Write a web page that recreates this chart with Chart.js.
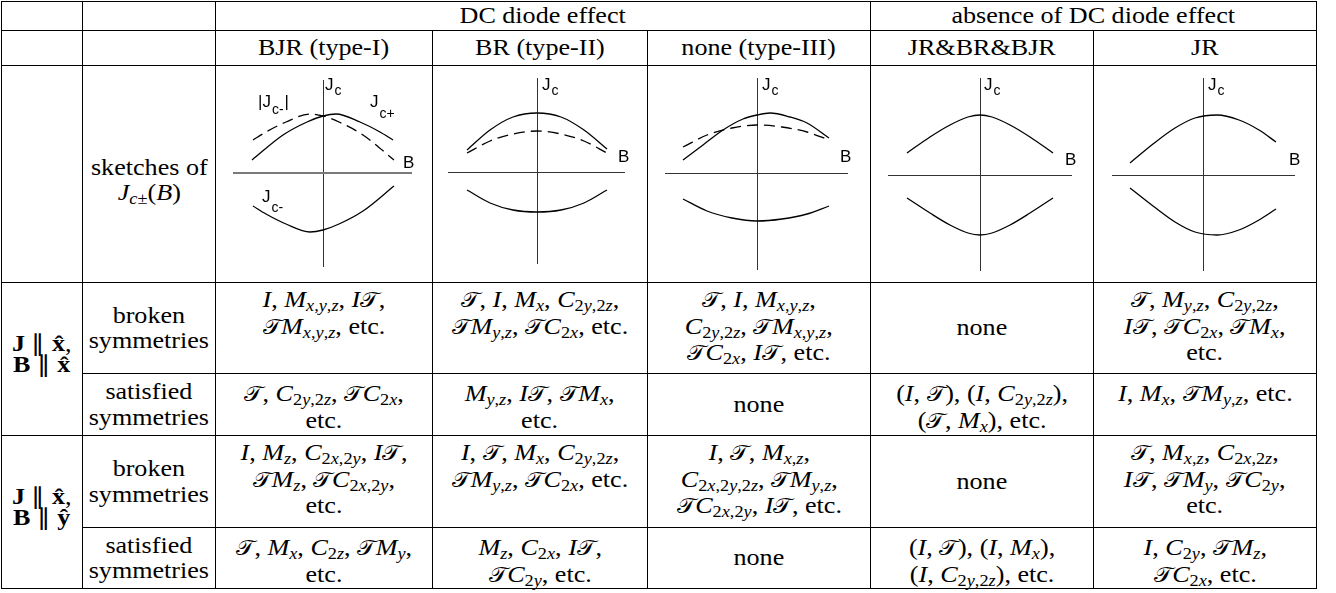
<!DOCTYPE html>
<html>
<head>
<meta charset="utf-8">
<script src="https://cdn.jsdelivr.net/npm/chart.js@4.4.0/dist/chart.umd.min.js"></script>
<style>
body { margin: 0; background: #fff; width: 1336px; height: 593px; overflow: hidden; position: relative; }
.cel { position: absolute; box-sizing: border-box; border: 1px solid #000;
       font-family: "Liberation Serif", "Times New Roman", serif;
       font-size: 22.5px; line-height: 25.5px; color: #000; text-align: center; white-space: nowrap; }
.centro { display: flex; align-items: center; justify-content: center; }
.txt { display: inline-block; transform: scaleX(1.16); }
.cel sub { font-size: 0.7em; line-height: 0; vertical-align: -0.28em; }
.cal { font-style: normal; font-size: 0.95em; }
canvas { position: absolute; }
</style>
</head>
<body>
<script>
// Column titles and cell texts
var grupos = ['DC diode effect', 'absence of DC diode effect'];
var tipos = ['BJR (type-I)', 'BR (type-II)', 'none (type-III)', 'JR&amp;BR&amp;BJR', 'JR'];
var linhas = ['broken<br>symmetries', 'satisfied<br>symmetries'];

var quebradasX = [
    '$I$, $M_{x,y,z}$, $IT$,<br>$TM_{x,y,z}$, etc.',
    '$T$, $I$, $M_x$, $C_{2y,2z}$,<br>$TM_{y,z}$, $TC_{2x}$, etc.',
    '$T$, $I$, $M_{x,y,z}$,<br>$C_{2y,2z}$, $TM_{x,y,z}$,<br>$TC_{2x}$, $IT$, etc.',
    'none',
    '$T$, $M_{y,z}$, $C_{2y,2z}$,<br>$IT$, $TC_{2x}$, $TM_x$,<br>etc.'
];
var satisfeitasX = [
    '$T$, $C_{2y,2z}$, $TC_{2x}$,<br>etc.',
    '$M_{y,z}$, $IT$, $TM_x$,<br>etc.',
    'none',
    '$(I, T)$, $(I, C_{2y,2z})$,<br>$(T, M_x)$, etc.',
    '$I$, $M_x$, $TM_{y,z}$, etc.'
];
var quebradasY = [
    '$I$, $M_z$, $C_{2x,2y}$, $IT$,<br>$TM_z$, $TC_{2x,2y}$,<br>etc.',
    '$I$, $T$, $M_x$, $C_{2y,2z}$,<br>$TM_{y,z}$, $TC_{2x}$, etc.',
    '$I$, $T$, $M_{x,z}$,<br>$C_{2x,2y,2z}$, $TM_{y,z}$,<br>$TC_{2x,2y}$, $IT$, etc.',
    'none',
    '$T$, $M_{x,z}$, $C_{2x,2z}$,<br>$IT$, $TM_y$, $TC_{2y}$,<br>etc.'
];
var satisfeitasY = [
    '$T$, $M_x$, $C_{2z}$, $TM_y$,<br>etc.',
    '$M_z$, $C_{2x}$, $IT$,<br>$TC_{2y}$, etc.',
    'none',
    '$(I, T)$, $(I, M_x)$,<br>$(I, C_{2y,2z})$, etc.',
    '$I$, $C_{2y}$, $TM_z$,<br>$TC_{2x}$, etc.'
];

// Sketch curves: B values and Jc values
var bjrB1 = [-71, -40, -16, 0, 13, 37, 57, 70];
var bjrJcPos = [13, 38, 51, 57, 59, 51, 41, 33];
var bjrB2 = [-70, -57, -37, -13, 0, 16, 40, 71];
var bjrJcNeg = [-33, -41, -51, -59, -57, -51, -38, -13];
var bjrJcNegAbs = [33, 41, 51, 59, 57, 51, 38, 13];

var brB = [-70, -47, -24, 0, 24, 47, 70];
var brJcPos = [22, 42, 55, 59, 55, 42, 23];
var brJcNeg = [-18, -31, -38, -40, -38, -31, -18];
var brJcNegAbs = [19, 31, 38, 41, 38, 31, 19];

var t3B1 = [-74, -54, -34, -14, 0, 13, 33, 50, 72];
var t3JcPos = [13, 28, 43, 54, 58, 60, 56, 50, 35];
var t3B2 = [-74, -50, -25, 0, 25, 50, 72];
var t3JcNeg = [-26, -38, -45, -48, -46, -41, -33];
var t3JcNegAbs = [26, 38, 45, 48, 46, 41, 33];

var jbbB = [-73, -50, -30, -12, 0, 12, 30, 50, 73];
var jbbJcPos = [22, 38, 50, 58, 60, 58, 50, 38, 22];
var jbbJcNeg = [-23, -38, -50, -58, -60, -58, -50, -38, -23];

var jrB = [-73, -50, -28, -8, 14, 36, 56, 73];
var jrJcPos = [12, 31, 47, 57, 60, 55, 45, 33];
var jrJcNeg = [-13, -31, -47, -57, -60, -55, -45, -34];

// grid of the table
var xs = [1, 82, 215, 432, 647, 870, 1093, 1316];
var ys = [1, 30, 65, 282, 373, 435, 527, 588];

function mat(m) {
    var out = '', i = 0;
    while (i < m.length) {
        var ch = m[i];
        if (ch == '_') {
            var sub;
            if (m[i + 1] == '{') { var j = m.indexOf('}', i); sub = m.slice(i + 2, j); i = j + 1; }
            else { sub = m[i + 1]; i += 2; }
            out += '<sub>' + mat(sub) + '</sub>';
            continue;
        }
        if (ch == 'T') out += '<span class="cal">\uD835\uDCAF</span>';
        else if (/[A-Za-z]/.test(ch)) out += '<i>' + ch + '</i>';
        else out += ch;
        i++;
    }
    return out;
}

function tex(s) {
    return s.replace(/\$([^$]*)\$/g, function (a, m) { return mat(m); });
}

function celula(c0, c1, r0, r1, html, centro, pad) {
    var d = document.createElement('div');
    d.className = 'cel' + (centro ? ' centro' : '');
    d.style.left = xs[c0] + 'px';
    d.style.top = ys[r0] + 'px';
    d.style.width = (xs[c1] - xs[c0] + 1) + 'px';
    d.style.height = (ys[r1] - ys[r0] + 1) + 'px';
    if (pad) d.style.paddingTop = pad + 'px';
    d.innerHTML = '<span class="txt">' + tex(html) + '</span>';
    document.body.appendChild(d);
    return d;
}

// header rows
celula(0, 1, 0, 1, '', true); celula(1, 2, 0, 1, '', true);
celula(2, 5, 0, 1, grupos[0], true);
celula(5, 7, 0, 1, grupos[1], true);
celula(0, 1, 1, 2, '', true); celula(1, 2, 1, 2, '', true);
for (var i = 0; i < 5; i++) celula(i + 2, i + 3, 1, 2, tipos[i], true);

// sketch row
celula(0, 1, 2, 3, '', true);
celula(1, 2, 2, 3, 'sketches of<br>$J_{c±}(B)$', true).style.paddingTop = '12px';
for (var i = 0; i < 5; i++) celula(i + 2, i + 3, 2, 3, '', true);

// symmetry rows
var lx = celula(0, 1, 3, 5, '<b>J</b> ∥ <b>x̂</b>,<br><b>B</b> ∥ <b>x̂</b>', true);
lx.style.paddingBottom = '10px'; lx.style.lineHeight = '21px';
var ly = celula(0, 1, 5, 7, '<b>J</b> ∥ <b>x̂</b>,<br><b>B</b> ∥ <b>ŷ</b>', true);
ly.style.paddingBottom = '10px'; ly.style.lineHeight = '21px';

var blocos = [quebradasX, satisfeitasX, quebradasY, satisfeitasY];
var pads = [4, 7, 4, 7];
for (var r = 0; r < 4; r++) {
    celula(1, 2, r + 3, r + 4, linhas[r % 2], true);
    for (var i = 0; i < 5; i++) {
        var t = blocos[r][i];
        if (t == 'none') celula(i + 2, i + 3, r + 3, r + 4, t, true);
        else celula(i + 2, i + 3, r + 3, r + 4, t, false, pads[r]);
    }
}

// labels of the sketches drawn on the chart
var rotulosPlugin = {
    id: 'rotulos',
    afterDraw: function (chart, args, opts) {
        var ctx = chart.ctx;
        var sx = chart.scales.x, sy = chart.scales.y;
        ctx.save();
        ctx.fillStyle = '#000';
        ctx.textBaseline = 'alphabetic';
        (opts.itens || []).forEach(function (r) {
            var px = sx.getPixelForValue(r.x), py = sy.getPixelForValue(r.y);
            ctx.font = '17px "Liberation Sans", Arial, sans-serif';
            ctx.fillText(r.t, px, py);
            var w = ctx.measureText(r.t).width;
            if (r.s) {
                ctx.font = '14px "Liberation Sans", Arial, sans-serif';
                ctx.fillText(r.s, px + w + 1, py + (r.d || 6));
                w += 1 + ctx.measureText(r.s).width;
            }
            if (r.p) {
                ctx.font = '17px "Liberation Sans", Arial, sans-serif';
                ctx.fillText(r.p, px + w + 1, py);
            }
        });
        ctx.restore();
    }
};

function pontos(b, jc) {
    return b.map(function (v, i) { return { x: v, y: jc[i] }; });
}

function serie(b, jc, tracejado) {
    return {
        data: pontos(b, jc), showLine: true, borderColor: '#000', borderWidth: 1.3,
        pointRadius: 0, cubicInterpolationMode: 'monotone', fill: false,
        borderDash: tracejado ? [11, 6] : []
    };
}

function escala(min, max, cor, larg) {
    return {
        type: 'linear', min: min, max: max,
        ticks: { display: false }, border: { display: false },
        grid: { drawTicks: false, color: cor, lineWidth: larg },
        afterBuildTicks: function (s) { s.ticks = [{ value: 0 }]; }
    };
}

var esbocos = [
    { col: 2, caixa: [233, 412, 80, 267], eixo: [323, 173], corB: '#7a7a7a', largB: 2,
      series: [serie(bjrB1, bjrJcPos, false), serie(bjrB2, bjrJcNeg, false), serie(bjrB2, bjrJcNegAbs, true)],
      rotulos: [{ t: 'J', s: 'c', x: 2, y: 83, d: 5 }, { t: '|J', s: 'c-', p: '|', x: -65, y: 66, d: 7 },
                { t: 'J', s: 'c+', x: 47, y: 66, d: 11 }, { t: 'B', x: 80, y: 5 }, { t: 'J', s: 'c-', x: -61, y: -29, d: 10 }] },
    { col: 3, caixa: [448, 625, 78, 264], eixo: [537, 172], corB: '#333', largB: 1,
      series: [serie(brB, brJcPos, false), serie(brB, brJcNeg, false), serie(brB, brJcNegAbs, true)],
      rotulos: [{ t: 'J', s: 'c', x: 5, y: 82, d: 5 }, { t: 'B', x: 81, y: 10 }] },
    { col: 4, caixa: [665, 848, 78, 270], eixo: [757, 173], corB: '#333', largB: 1,
      series: [serie(t3B1, t3JcPos, false), serie(t3B2, t3JcNeg, false), serie(t3B2, t3JcNegAbs, true)],
      rotulos: [{ t: 'J', s: 'c', x: 5, y: 83, d: 5 }, { t: 'B', x: 83, y: 11 }] },
    { col: 5, caixa: [888, 1072, 78, 271], eixo: [980, 175], corB: '#333', largB: 1,
      series: [serie(jbbB, jbbJcPos, false), serie(jbbB, jbbJcNeg, false)],
      rotulos: [{ t: 'J', s: 'c', x: 4, y: 85, d: 5 }, { t: 'B', x: 85, y: 10 }] },
    { col: 6, caixa: [1112, 1295, 78, 271], eixo: [1203, 175], corB: '#333', largB: 1,
      series: [serie(jrB, jrJcPos, false), serie(jrB, jrJcNeg, false)],
      rotulos: [{ t: 'J', s: 'c', x: 5, y: 85, d: 5 }, { t: 'B', x: 86, y: 10 }] }
];

esbocos.forEach(function (e) {
    var cv = document.createElement('canvas');
    var esq = xs[e.col] + 1, topo = ys[2] + 1;
    var larg = xs[e.col + 1] - xs[e.col] - 1, alt = ys[3] - ys[2] - 1;
    cv.width = larg; cv.height = alt;
    cv.style.left = esq + 'px'; cv.style.top = topo + 'px';
    cv.style.width = larg + 'px'; cv.style.height = alt + 'px';
    document.body.appendChild(cv);

    new Chart(cv, {
        type: 'scatter',
        data: { datasets: e.series },
        options: {
            animation: false, responsive: false, devicePixelRatio: 1, events: [],
            layout: { padding: { left: e.caixa[0] - esq, right: esq + larg - e.caixa[1],
                                 top: e.caixa[2] - topo, bottom: topo + alt - e.caixa[3] } },
            scales: {
                x: escala(e.caixa[0] - e.eixo[0], e.caixa[1] - e.eixo[0], '#333', 1),
                y: escala(e.eixo[1] - e.caixa[3], e.eixo[1] - e.caixa[2], e.corB, e.largB)
            },
            plugins: { legend: { display: false }, tooltip: { enabled: false }, rotulos: { itens: e.rotulos } }
        },
        plugins: [rotulosPlugin]
    });
});
</script>
</body>
</html>
